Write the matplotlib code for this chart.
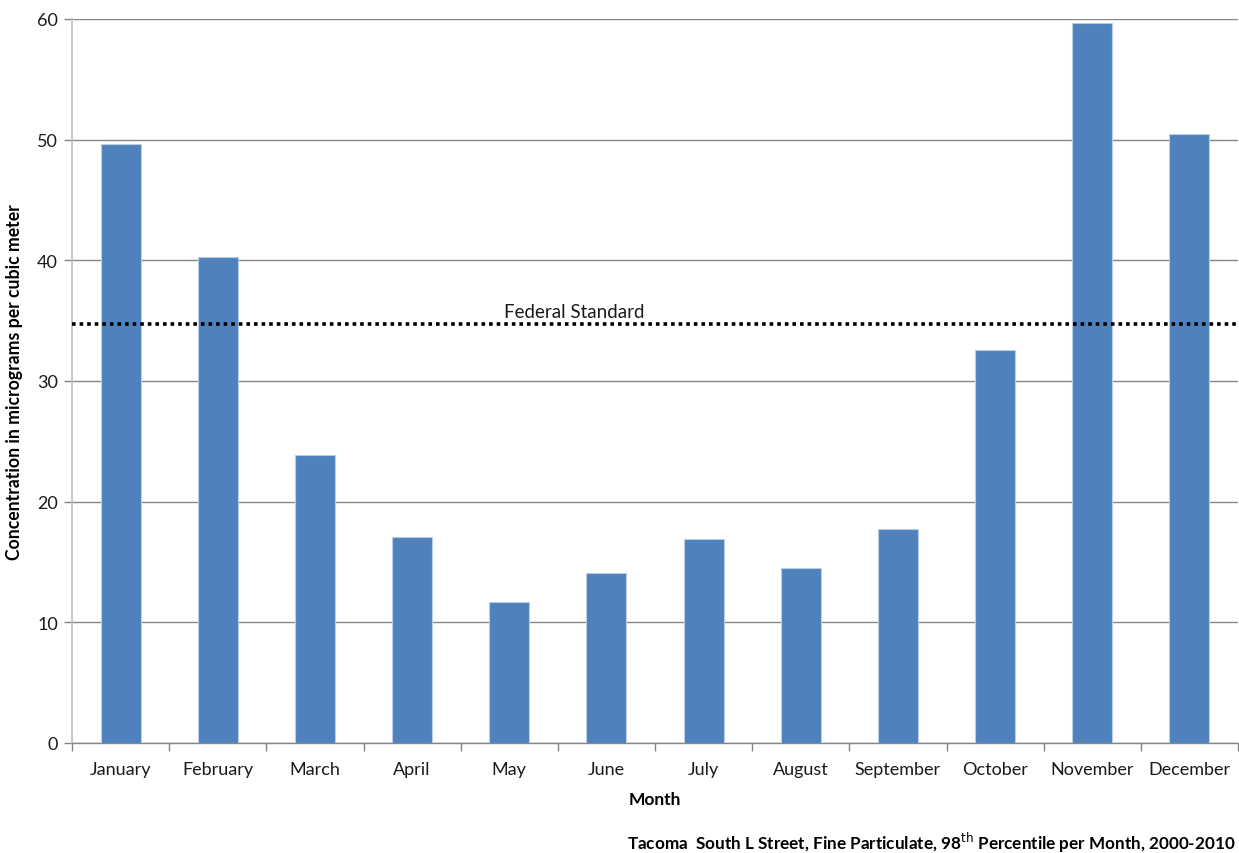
import matplotlib
matplotlib.use("Agg")
import matplotlib.pyplot as plt
import numpy as np

plt.rcParams['font.family'] = ['Lato', 'DejaVu Sans']

# Monthly 98th percentile of fine particulate, Tacoma South L Street
months = ['January', 'February', 'March', 'April', 'May', 'June',
          'July', 'August', 'September', 'October', 'November', 'December']
concentration = [49.6, 40.3, 23.9, 17.1, 11.7, 14.1,
                 16.9, 14.5, 17.7, 32.6, 59.7, 50.5]
federal_standard = 34.7
y_ticks = [0, 10, 20, 30, 40, 50, 60]

W, H = 1239, 854
fig = plt.figure(figsize=(W / 100, H / 100), dpi=100)
ax = fig.add_axes([72 / W, 1 - 744 / H, (1238 - 72) / W, (744 - 20) / H])

x = np.arange(len(months))
ax.bar(x, concentration, width=0.41, color='#4f81bd', edgecolor='#b9cde5',
       linewidth=0.8, zorder=3)

# federal standard reference line
ax.axhline(federal_standard, color='black', linewidth=2.6,
           linestyle=(0, (1, 1.1)), zorder=4)
ax.text(4.67, federal_standard + 0.35, 'Federal Standard', ha='center',
        va='bottom', fontsize=13.5, color='#1a1a1a', zorder=5)

ax.set_xlim(-0.5, len(months) - 0.5)
ax.set_ylim(0, 60)
ax.set_yticks(y_ticks)
ax.yaxis.grid(True, color='#868686', linewidth=1.0, zorder=0)
ax.set_axisbelow(True)

# tick marks sit between categories, labels under each bar
ax.set_xticks(np.arange(len(months) + 1) - 0.5)
ax.set_xticklabels([])
ax.set_xticks(x, minor=True)
ax.set_xticklabels(months, minor=True, fontsize=13, color='#1a1a1a')
ax.tick_params(axis='x', which='major', length=6, color='#868686', width=1)
ax.tick_params(axis='x', which='minor', length=0, pad=13)
ax.tick_params(axis='y', length=6, color='#868686', width=1, labelsize=13,
               labelcolor='#1a1a1a', pad=4)

for side in ('top', 'right'):
    ax.spines[side].set_visible(False)
ax.spines['left'].set_color('#bfbfbf')
ax.spines['left'].set_linewidth(1.2)
ax.spines['bottom'].set_color('#868686')
ax.spines['bottom'].set_linewidth(1.0)

ax.set_xlabel('Month', fontsize=12.5, fontweight='bold', labelpad=10)
ax.set_ylabel('Concentration in micrograms per cubic meter', fontsize=12.7,
              fontweight='bold', labelpad=10)

fig.text(1236 / W, 1 - 843 / H,
         r'Tacoma  South L Street, Fine Particulate, 98$^{\mathrm{th}}$ Percentile per Month, 2000-2010',
         ha='right', va='center', fontsize=12.3, fontweight='bold')

fig.savefig('out.png', dpi=100)
